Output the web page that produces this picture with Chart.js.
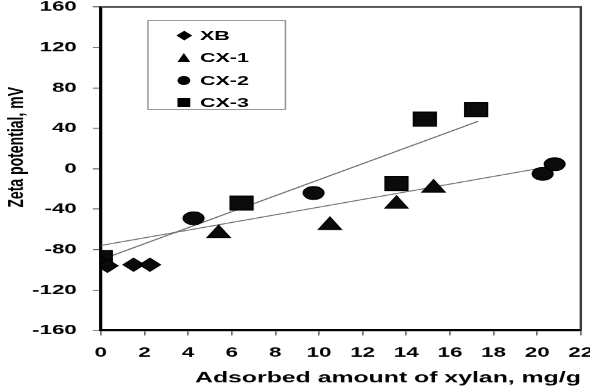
<!DOCTYPE html>
<html>
<head>
<meta charset="utf-8">
<script src="https://cdn.jsdelivr.net/npm/chart.js@4.4.1/dist/chart.umd.min.js"></script>
<style>
  html, body { margin: 0; padding: 0; background: #fff; overflow: hidden; }
  /* the original figure is stretched sideways, so the whole chart is too */
  #wrap { position: relative; width: 369px; height: 388px; transform: scaleX(1.599); transform-origin: 0 0; }
  #legend { position: absolute; left: 92px; top: 20px; width: 87px; height: 90px; box-sizing: border-box;
            border: 1px solid #999; padding-top: 3px; font: bold 13.5px "Liberation Sans", Arial, sans-serif; color: #000; }
  .item { height: 22.5px; display: flex; align-items: center; }
  .slot { width: 14px; margin-left: 15px; margin-right: 3px; display: flex; justify-content: center; align-items: center; }
  .diamond { width: 6.5px; height: 6.5px; background: #000; transform: rotate(45deg); }
  .triangle { width: 0; height: 0; border-left: 4.5px solid transparent; border-right: 4.5px solid transparent; border-bottom: 9px solid #000; }
  .circle { width: 8px; height: 9px; border-radius: 50%; background: #000; }
  .square { width: 8px; height: 9px; background: #000; }
</style>
</head>
<body>
<div id="wrap">
  <canvas id="chart" width="369" height="388"></canvas>
  <div id="legend"></div>
</div>
<script>
const seriesNames = ['XB', 'CX-1', 'CX-2', 'CX-3'];

// adsorbed xylan (mg/g) and zeta potential (mV)
const xbX  = [0, 0.3, 1.5, 2.25];
const xbY  = [-93, -96, -95, -95];
const cx1X = [5.4, 10.5, 13.55, 15.25];
const cx1Y = [-64, -56, -35, -19];
const cx2X = [4.25, 9.75, 20.25, 20.8];
const cx2Y = [-49, -24, -5, 4.5];
const cx3X = [0, 6.45, 13.55, 14.85, 17.2];
const cx3Y = [-88, -34, -14.5, 49, 58.5];

// the two straight trend lines
const fitAX = [0, 17.3];
const fitAY = [-90, 47];
const fitBX = [0, 20.8];
const fitBY = [-76, 3];

const xTicks = [0, 2, 4, 6, 8, 10, 12, 14, 16, 18, 20, 22];
const yTicks = [-160, -120, -80, -40, 0, 40, 80, 120, 160];

const pts = (xs, ys) => xs.map((x, i) => ({ x: x, y: ys[i] }));

const markers = [
  { style: 'rectRot', r: 6.5, css: 'diamond' },
  { style: 'triangle', r: 8.2, css: 'triangle' },
  { style: 'circle', r: 6.4, css: 'circle' },
  { style: 'rect', r: 10, css: 'square' }
];
const seriesData = [pts(xbX, xbY), pts(cx1X, cx1Y), pts(cx2X, cx2Y), pts(cx3X, cx3Y)];

const datasets = seriesNames.map((name, i) => ({
  type: 'scatter',
  label: name,
  data: seriesData[i],
  pointStyle: markers[i].style,
  pointRadius: markers[i].r,
  backgroundColor: '#0b0b0b',
  borderColor: '#000',
  borderWidth: 1,
  order: 1
}));

[pts(fitAX, fitAY), pts(fitBX, fitBY)].forEach((d, i) => {
  datasets.push({
    type: 'line',
    label: 'fit' + i,
    data: d,
    borderColor: '#6e6e6e',
    borderWidth: 1,
    pointRadius: 0,
    fill: false,
    order: 2
  });
});

// legend box inside the plot
const legend = document.getElementById('legend');
seriesNames.forEach((name, i) => {
  const item = document.createElement('div');
  item.className = 'item';
  item.innerHTML = `<span class="slot"><span class="${markers[i].css}"></span></span><span>${name}</span>`;
  legend.appendChild(item);
});

// thin frame on top and right of the plot
const framePlugin = {
  id: 'frame',
  afterDraw(chart) {
    const { ctx, chartArea: a } = chart;
    ctx.save();
    ctx.strokeStyle = '#3a3a3a';
    ctx.lineWidth = 1.5;
    ctx.beginPath();
    ctx.moveTo(a.left, a.top);
    ctx.lineTo(a.right, a.top);
    ctx.lineTo(a.right, a.bottom);
    ctx.stroke();
    ctx.restore();
  }
};

// fixed axis sizes, no extra room for overhanging labels
const noPad = s => { s.paddingTop = 0; s.paddingBottom = 0; s.paddingLeft = 0; s.paddingRight = 0; };

const font = { family: '"Liberation Sans", Arial, sans-serif', weight: 'bold' };

new Chart(document.getElementById('chart'), {
  data: { datasets: datasets },
  options: {
    responsive: false,
    animation: false,
    devicePixelRatio: 1.6,
    layout: { autoPadding: false, padding: { top: 7, right: 6, left: 0, bottom: 0 } },
    plugins: { legend: { display: false }, tooltip: { enabled: false } },
    scales: {
      x: {
        type: 'linear',
        position: 'bottom',
        min: 0,
        max: 22,
        afterBuildTicks: s => { s.ticks = xTicks.map(v => ({ value: v })); },
        afterFit: s => { s.height = 58; noPad(s); },
        ticks: { color: '#000', font: { ...font, size: 14 }, padding: 9, maxRotation: 0 },
        grid: { drawOnChartArea: false, drawTicks: true, tickLength: 5, color: '#666' },
        border: { color: '#000', width: 2 },
        title: { display: true, text: 'Adsorbed amount of xylan, mg/g', align: 'end', color: '#000',
                 font: { ...font, size: 15.5 }, padding: { top: 0, bottom: 1 } }
      },
      y: {
        type: 'linear',
        min: -160,
        max: 160,
        afterBuildTicks: s => { s.ticks = yTicks.map(v => ({ value: v })); },
        afterFit: s => { s.width = 63; noPad(s); },
        ticks: { color: '#000', font: { ...font, size: 14 }, padding: 10 },
        grid: { drawOnChartArea: false, drawTicks: true, tickLength: 5, color: '#666' },
        border: { color: '#000', width: 2 },
        title: { display: true, text: '           Zeta potential, mV', color: '#000',
                 font: { ...font, size: 14 }, padding: { top: 2, bottom: 0 } }
      }
    }
  },
  plugins: [framePlugin]
});
</script>
</body>
</html>
